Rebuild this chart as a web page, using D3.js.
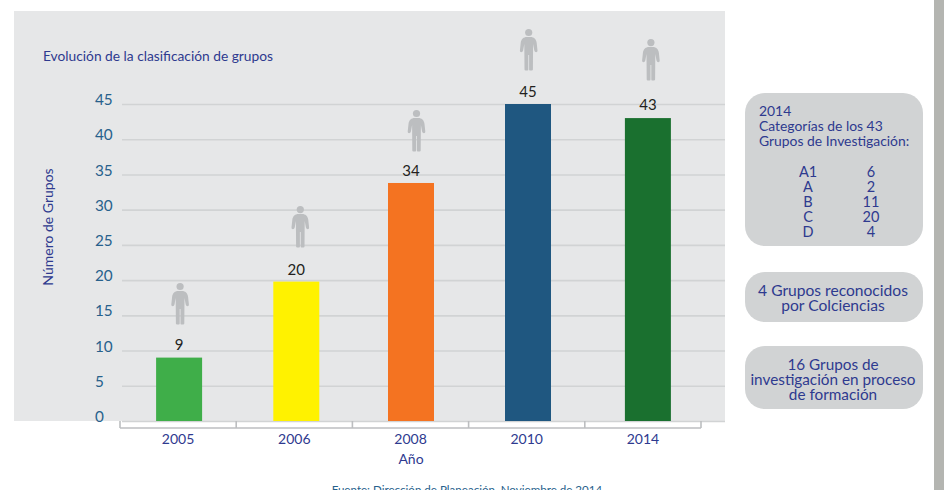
<!DOCTYPE html>
<html>
<head>
<meta charset="utf-8">
<script src="https://cdn.jsdelivr.net/npm/d3@7"></script>
<style>
html, body { margin: 0; padding: 0; background: #fff; overflow: hidden; }
text { font-family: Lato, "Open Sans", sans-serif; }
</style>
</head>
<body>
<div class="canvas"></div>
<script>
// data
const years = ['2005', '2006', '2008', '2010', '2014'];
const groups = [9, 20, 34, 45, 43];
const barColors = ['#3fae49', '#fff200', '#f47321', '#1f5780', '#1a702f'];
const yTicks = [0, 5, 10, 15, 20, 25, 30, 35, 40, 45];
const catNames = ['A1', 'A', 'B', 'C', 'D'];
const catValues = [6, 2, 11, 20, 4];

const svgWidth = 944;
const svgHeight = 490;
const navy = '#2e3a8f';
const teal = '#27618c';

const svg = d3.select('.canvas')
    .append('svg')
    .attr('width', svgWidth)
    .attr('height', svgHeight)
    .style('display', 'block');

// page side stripe and grey panel
svg.append('rect').attr('x', 934).attr('y', 0).attr('width', 10).attr('height', svgHeight).attr('fill', '#b4b5b1');
svg.append('rect').attr('x', 14).attr('y', 11).attr('width', 711).attr('height', 410).attr('fill', '#e6e7e8');

// SCALES
const x = d3.scaleBand().domain(years).range([120, 701]);
const y = d3.scaleLinear().domain([0, 45]).range([421, 104]);

// gridlines + y labels
const yAxis = d3.axisLeft(y)
    .tickValues(yTicks)
    .tickSize(0)
    .tickPadding(0);
const yGroup = svg.append('g')
    .attr('transform', 'translate(122, 0)')
    .call(yAxis);
yGroup.select('.domain').remove();
yGroup.selectAll('.tick line')
    .attr('x2', 603)
    .attr('stroke', '#d1d3d4')
    .attr('stroke-width', 1.6);
yGroup.selectAll('.tick text')
    .attr('x', -27)
    .attr('dy', '0.04em')
    .attr('text-anchor', 'start')
    .attr('fill', teal)
    .style('font-size', '15.3px');

// bracket under the axis
const bracket = svg.append('g').attr('stroke', '#bcbec0').attr('stroke-width', 1.6).attr('fill', 'none');
bracket.append('line')
    .attr('x1', x.range()[0]).attr('x2', x.range()[1])
    .attr('y1', 428).attr('y2', 428);
bracket.selectAll('line.edge')
    .data(years.map(d => x(d)).concat(x.range()[1]))
    .enter().append('line')
    .attr('class', 'edge')
    .attr('x1', d => d).attr('x2', d => d)
    .attr('y1', 421).attr('y2', 428);

const xAxis = d3.axisBottom(x).tickSize(0).tickPadding(0);
const xGroup = svg.append('g')
    .attr('transform', 'translate(0, 431)')
    .call(xAxis);
xGroup.select('.domain').remove();
xGroup.selectAll('.tick text')
    .attr('y', 0)
    .attr('dy', '0.95em')
    .attr('fill', navy)
    .style('font-size', '14px');

// bars sit a little off the band centres in the original
const barWidth = 46;
const barShift = [1, 2, 0.5, 1.3, 5];
const topShift = [0, 1.5, 1.5, 0, 0];
const labelGap = [8, 7, 7, 7, 8];
const iconShift = [2, 6, 6, 2, 8];
const iconGap = [33.6, 33, 30.5, 34, 38];

svg.selectAll('rect.bar')
    .data(groups)
    .enter().append('rect')
    .attr('class', 'bar')
    .attr('x', (d, i) => x(years[i]) + x.bandwidth() / 2 - barWidth / 2 + barShift[i])
    .attr('y', (d, i) => y(d) + topShift[i])
    .attr('width', barWidth)
    .attr('height', (d, i) => y(0) - y(d) - topShift[i])
    .attr('fill', (d, i) => barColors[i]);

svg.selectAll('text.val')
    .data(groups)
    .enter().append('text')
    .attr('class', 'val')
    .attr('x', (d, i) => x(years[i]) + x.bandwidth() / 2 + barShift[i])
    .attr('y', (d, i) => y(d) + topShift[i] - labelGap[i])
    .attr('text-anchor', 'middle')
    .attr('fill', '#231f20')
    .style('font-size', '15px')
    .text(d => d);

// person icon, origin at the feet
const personPath = 'M-4.2,-0.5 Q-4.2,0.5 -3,0.5 L-1.2,0.5 Q-0.4,0.5 -0.4,-0.5 L-0.4,-15 L0.4,-15 L0.4,-0.5 Q0.4,0.5 1.2,0.5 L3,0.5 Q4.2,0.5 4.2,-0.5 L4.4,-26 L5.6,-19.5 Q6,-17.8 7.4,-17.8 Q9,-17.8 8.8,-19.5 L8,-27 C7.6,-31 5,-33 2,-33 L-2,-33 C-5,-33 -7.6,-31 -8,-27 L-8.8,-19.5 Q-9,-17.8 -7.4,-17.8 Q-6,-17.8 -5.6,-19.5 L-4.4,-26 Z';
const people = svg.selectAll('g.person')
    .data(groups)
    .enter().append('g')
    .attr('class', 'person')
    .attr('fill', '#bcbec0')
    .attr('transform', (d, i) => `translate(${x(years[i]) + x.bandwidth() / 2 + iconShift[i]}, ${y(d) - iconGap[i]})`);
people.append('path').attr('d', personPath);
people.append('circle').attr('cy', -37.5).attr('r', 3.6);

// titles
svg.append('text').attr('x', 43).attr('y', 61).attr('fill', navy).style('font-size', '13.75px')
    .text('Evolución de la clasificación de grupos');
svg.append('text')
    .attr('transform', 'translate(53, 227) rotate(-90)')
    .attr('text-anchor', 'middle').attr('fill', navy).style('font-size', '14px')
    .text('Número de Grupos');
svg.append('text').attr('x', 411).attr('y', 464).attr('text-anchor', 'middle').attr('fill', navy).style('font-size', '14px')
    .text('Año');
svg.append('text').attr('x', 467).attr('y', 494).attr('text-anchor', 'middle').attr('fill', teal).style('font-size', '11.6px')
    .text('Fuente: Dirección de Planeación, Noviembre de 2014');

// boxes on the right
const boxX = 745;
const boxW = 178;
function box(top, h, r) {
    svg.append('rect').attr('x', boxX).attr('y', top).attr('width', boxW).attr('height', h).attr('rx', r).attr('fill', '#d1d3d4');
}
function boxText(px, py, str, anchor, size) {
    svg.append('text').attr('x', px).attr('y', py).attr('text-anchor', anchor || 'start')
        .attr('fill', navy).style('font-size', size + 'px').text(str);
}

box(93, 153, 20);
['2014', 'Categorías de los 43', 'Grupos de Investigación:'].forEach((s, i) => boxText(759, 116 + i * 15, s, 'start', 13.9));
catNames.forEach((s, i) => {
    boxText(808, 177 + i * 15, s, 'middle', 14.5);
    boxText(871, 177 + i * 15, catValues[i], 'middle', 14.5);
});

box(272, 50, 20);
['4 Grupos reconocidos', 'por Colciencias'].forEach((s, i) => boxText(833, 296 + i * 15, s, 'middle', 15.6));

box(346, 63, 20);
['16 Grupos de', 'investigación en proceso', 'de formación'].forEach((s, i) => boxText(833, 370 + i * 15, s, 'middle', 15.3));
</script>
</body>
</html>
